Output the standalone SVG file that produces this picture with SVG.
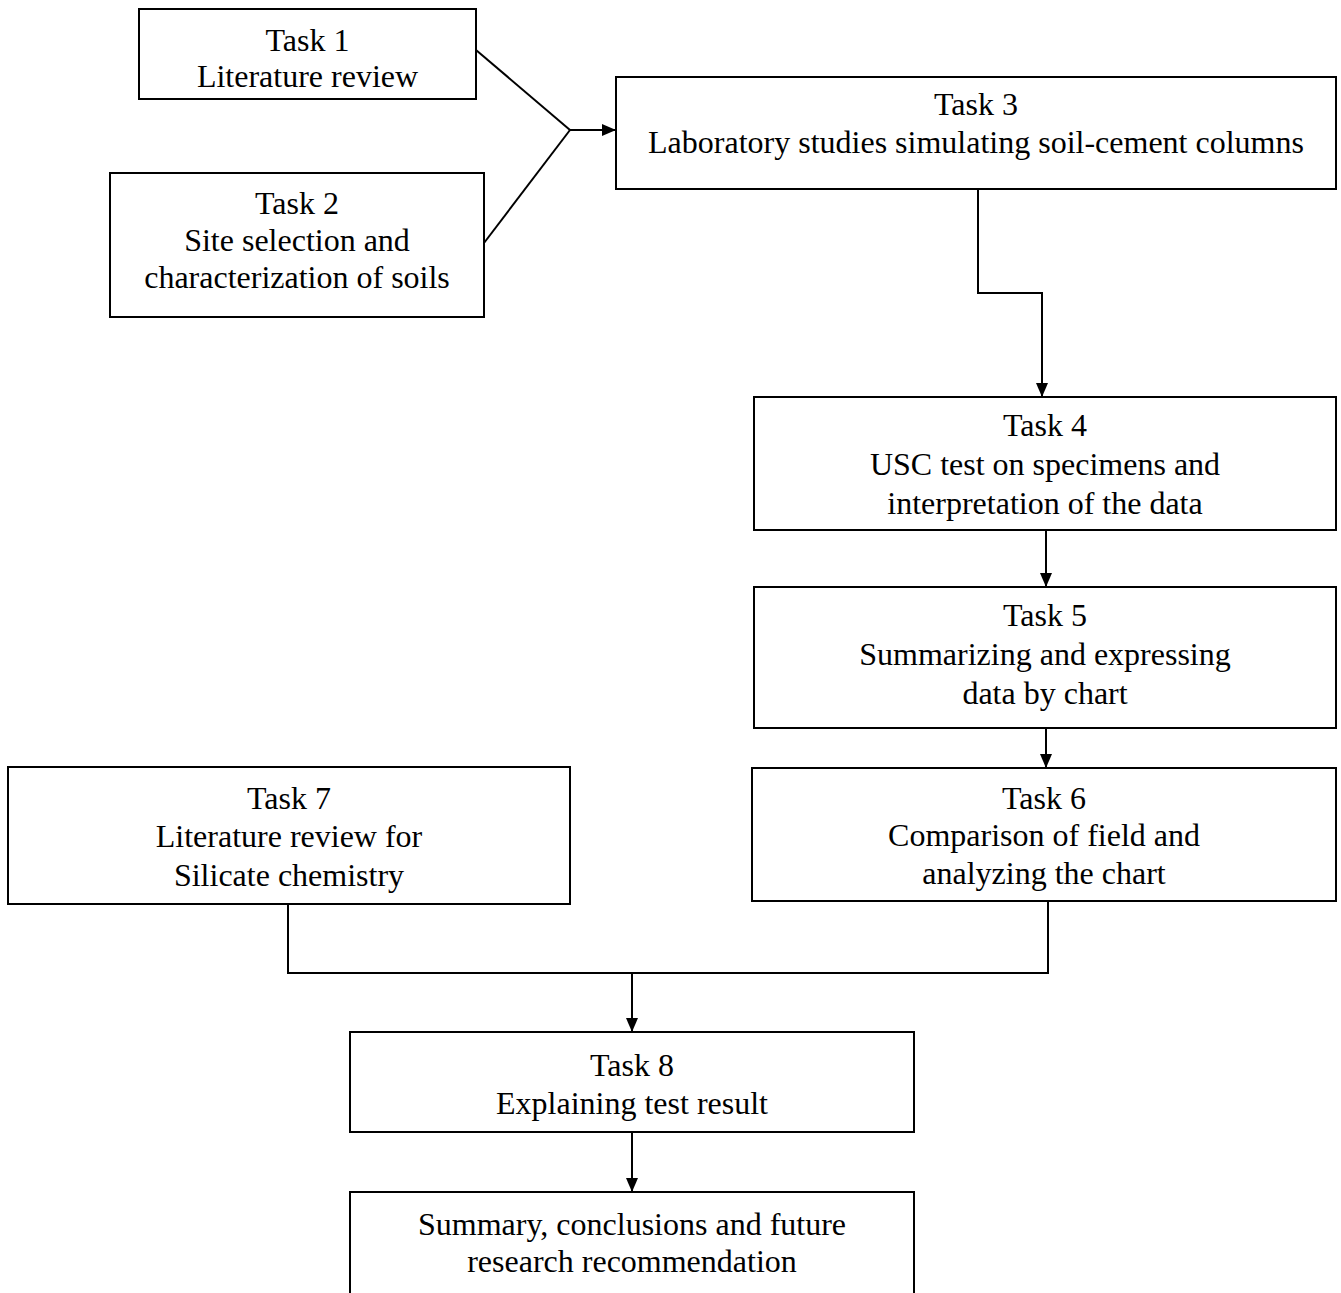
<svg xmlns="http://www.w3.org/2000/svg" width="1341" height="1293" viewBox="0 0 1341 1293">
<style>
.box{fill:#fff;stroke:#000;stroke-width:2}
.t{font-family:"Liberation Serif","Times New Roman",serif;font-size:32px;fill:#000;text-anchor:middle}
.c{fill:none;stroke:#000;stroke-width:2}
</style>
<defs>
<marker id="ah" markerWidth="14" markerHeight="12" refX="14" refY="6" orient="auto" markerUnits="userSpaceOnUse">
<path d="M0,0 L14,6 L0,12 Z" fill="#000"/>
</marker>
</defs>
<rect width="1341" height="1293" fill="#fff"/>
<g id="connectors">
<line class="c" x1="476" y1="50" x2="570" y2="130"/>
<line class="c" x1="484" y1="243" x2="570" y2="130"/>
<line class="c" x1="569" y1="130" x2="616" y2="130" marker-end="url(#ah)"/>
<polyline class="c" points="978,189 978,293 1042,293 1042,397" marker-end="url(#ah)"/>
<line class="c" x1="1046" y1="530" x2="1046" y2="587" marker-end="url(#ah)"/>
<line class="c" x1="1046" y1="728" x2="1046" y2="768" marker-end="url(#ah)"/>
<polyline class="c" points="288,904 288,973 1048,973 1048,901"/>
<line class="c" x1="632" y1="973" x2="632" y2="1032" marker-end="url(#ah)"/>
<line class="c" x1="632" y1="1132" x2="632" y2="1192" marker-end="url(#ah)"/>
</g>
<g id="task1">
<rect class="box" x="139" y="9" width="337" height="90"/>
<text class="t" x="307.5" y="51">Task 1</text>
<text class="t" x="307.5" y="87">Literature review</text>
</g>
<g id="task2">
<rect class="box" x="110" y="173" width="374" height="144"/>
<text class="t" x="297" y="214">Task 2</text>
<text class="t" x="297" y="251">Site selection and</text>
<text class="t" x="297" y="288">characterization of soils</text>
</g>
<g id="task3">
<rect class="box" x="616" y="77" width="720" height="112"/>
<text class="t" x="976" y="115">Task 3</text>
<text class="t" x="976" y="153">Laboratory studies simulating soil-cement columns</text>
</g>
<g id="task4">
<rect class="box" x="754" y="397" width="582" height="133"/>
<text class="t" x="1045" y="436">Task 4</text>
<text class="t" x="1045" y="475">USC test on specimens and</text>
<text class="t" x="1045" y="514">interpretation of the data</text>
</g>
<g id="task5">
<rect class="box" x="754" y="587" width="582" height="141"/>
<text class="t" x="1045" y="626">Task 5</text>
<text class="t" x="1045" y="665">Summarizing and expressing</text>
<text class="t" x="1045" y="704">data by chart</text>
</g>
<g id="task6">
<rect class="box" x="752" y="768" width="584" height="133"/>
<text class="t" x="1044" y="809">Task 6</text>
<text class="t" x="1044" y="846">Comparison of field and</text>
<text class="t" x="1044" y="884">analyzing the chart</text>
</g>
<g id="task7">
<rect class="box" x="8" y="767" width="562" height="137"/>
<text class="t" x="289" y="809">Task 7</text>
<text class="t" x="289" y="847">Literature review for</text>
<text class="t" x="289" y="886">Silicate chemistry</text>
</g>
<g id="task8">
<rect class="box" x="350" y="1032" width="564" height="100"/>
<text class="t" x="632" y="1076">Task 8</text>
<text class="t" x="632" y="1114">Explaining test result</text>
</g>
<g id="summary">
<rect class="box" x="350" y="1192" width="564" height="120"/>
<text class="t" x="632" y="1235">Summary, conclusions and future</text>
<text class="t" x="632" y="1272">research recommendation</text>
</g>
</svg>
